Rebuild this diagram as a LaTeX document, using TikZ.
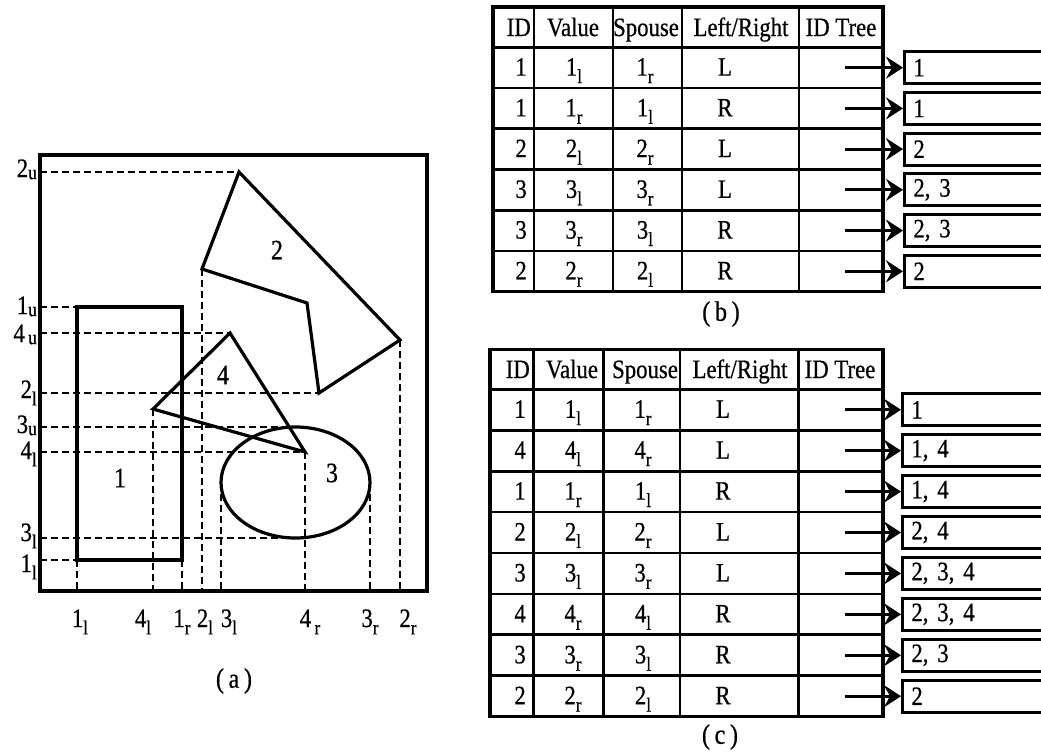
\documentclass[tikz,border=0pt]{standalone}
\usepackage{fontspec}
\setmainfont{Liberation Serif}[FakeStretch=0.86,FakeBold=0.6]
\usetikzlibrary{arrows.meta}

% number with a lowered letter index
\newcommand{\sbs}[2]{#1\raisebox{-0.28em}{\fontsize{20}{20}\selectfont #2}}
\newcommand{\sbu}[2]{#1\raisebox{-0.08em}{\fontsize{20}{20}\selectfont #2}}

\tikzset{
  outline/.style={line width=3.2pt, line join=miter},
  guide/.style={line width=2.8pt, dash pattern=on 7pt off 4pt},
  grid/.style={line width=2.8pt},
  lbl/.style={font=\fontsize{26.5}{30}\selectfont, inner sep=0pt},
  big/.style={font=\fontsize{28}{32}\selectfont, inner sep=0pt},
  treebox/.style={draw, line width=2.8pt, anchor=west, minimum height=32pt,
    text width=150pt, inner xsep=9pt, align=left, font=\fontsize{26.5}{30}\selectfont},
  tip/.style={line width=2.8pt, -{Stealth[length=17pt,width=22pt,inset=6pt]}}
}

\begin{document}
\begin{tikzpicture}[x=1pt,y=-1pt]
    \useasboundingbox (0,0) rectangle (1041,755);
    \clip (0,0) rectangle (1041,755);

    % (a) frame
    \draw[outline] (40,155) rectangle (427,591);
    \coordinate (fl) at (40,0);
    \coordinate (fb) at (0,591);
    % shape corners
    \coordinate (p2t) at (239,172);
    \coordinate (p2r) at (400,340);
    \coordinate (p2b) at (319,393);
    \coordinate (p2i) at (307,303);
    \coordinate (p2l) at (202,269);
    \coordinate (r1a) at (77,307);
    \coordinate (r1b) at (182,560);
    \coordinate (t4t) at (230,333);
    \coordinate (t4l) at (153,409);
    \coordinate (t4r) at (305,452);
    \coordinate (e3) at (295.5,482.5);
    \coordinate (e3n) at (295.5,427);
    \coordinate (e3s) at (295.5,538);
    \coordinate (e3w) at (221,482.5);
    \coordinate (e3e) at (370,482.5);
    % horizontal guides
    \draw[guide] (fl |- p2t) -- (p2t);
    \draw[guide] (fl |- r1a) -- (r1a);
    \draw[guide] (fl |- t4t) -- (t4t);
    \draw[guide] (fl |- p2b) -- (p2b);
    \draw[guide] (fl |- e3n) -- (e3n);
    \draw[guide] (fl |- t4r) -- (t4r);
    \draw[guide] (fl |- e3s) -- (e3s);
    \draw[guide] (fl |- r1b) -- (r1a |- r1b);
    % vertical guides
    \draw[guide] (r1a |- r1b) -- (r1a |- fb);
    \draw[guide] (t4l) -- (t4l |- fb);
    \draw[guide] (r1b) -- (r1b |- fb);
    \draw[guide] (p2l) -- (p2l |- fb);
    \draw[guide] (e3w) -- (e3w |- fb);
    \draw[guide] (t4r) -- (t4r |- fb);
    \draw[guide] (e3e) -- (e3e |- fb);
    \draw[guide] (p2r) -- (p2r |- fb);
    % shapes
    \draw[outline] (p2t) -- (p2r) -- (p2b) -- (p2i) -- (p2l) -- cycle;
    \draw[outline] (r1a) rectangle (r1b);
    \draw[outline] (t4t) -- (t4r) -- (t4l) -- cycle;
    \draw[outline] (e3) ellipse (74.5 and 55.5);
    \node[big] (n2) at (277,250) {2};
    \node[big] (n4) at (223,375) {4};
    \node[big] (n1) at (120,478) {1};
    \node[big] (n3) at (332,473) {3};
    % left labels
    \node[lbl, anchor=base east] (ly2u) at (37,177) {\sbu{2}{u}};
    \node[lbl, anchor=base east] (ly1u) at (37,314) {\sbu{1}{u}};
    \node[lbl, anchor=base east] (ly4u) at (37,342) {\sbu{4}{\,u}};
    \node[lbl, anchor=base east] (ly2l) at (37,398) {\sbs{2}{l}};
    \node[lbl, anchor=base east] (ly3u) at (37,433) {\sbu{3}{u}};
    \node[lbl, anchor=base east] (ly4l) at (37,459) {\sbs{4}{l}};
    \node[lbl, anchor=base east] (ly3l) at (37,541) {\sbs{3}{l}};
    \node[lbl, anchor=base east] (ly1l) at (37,572) {\sbs{1}{l}};
    % bottom labels
    \node[lbl, anchor=base] (lx1l) at (80,627) {\sbs{1}{l}};
    \node[lbl, anchor=base] (lx4l) at (143,627) {\sbs{4}{l}};
    \node[lbl, anchor=base] (lx1r) at (182,627) {\sbs{1}{r}};
    \node[lbl, anchor=base] (lx2l) at (205,627) {\sbs{2}{l}};
    \node[lbl, anchor=base] (lx3l) at (229,627) {\sbs{3}{l}};
    \node[lbl, anchor=base] (lx4r) at (310,627) {\sbs{4}{\,r}};
    \node[lbl, anchor=base] (lx3r) at (370,627) {\sbs{3}{r}};
    \node[lbl, anchor=base] (lx2r) at (408,627) {\sbs{2}{r}};
    \node[big] (capa) at (234,681) {(\,a\,)};

    % (b) table
    \draw[line width=3.2pt] (493,7) rectangle (883,291.7);
    \foreach \x in {534,613,682,799}
        \draw[grid] (\x,7) -- (\x,291.7);
    \foreach \i in {0,...,5}
        \draw[grid] (493,47.3+\i*40.73) -- (883,47.3+\i*40.73);
    \node[lbl, anchor=base east] (bhid) at (531,36) {ID};
    \node[lbl, anchor=base] (bhval) at (573,36) {Value};
    \node[lbl, anchor=base] (bhsp) at (646,36) {Spouse};
    \node[lbl, anchor=base] (bhlr) at (741,36) {Left/Right};
    \node[lbl, anchor=base] (bhtree) at (841,36) {ID Tree};
    \foreach \id/\va/\vb/\pa/\pb/\side/\tree [count=\i] in
        {1/1/l/1/r/L/1, 1/1/r/1/l/R/1, 2/2/l/2/r/L/2,
         3/3/l/3/r/L/{2, 3}, 3/3/r/3/l/R/{2, 3}, 2/2/r/2/l/R/2}
    {
        \pgfmathsetmacro{\yy}{47.3+(\i-0.5)*40.73}
        \node[lbl, anchor=base east] (bid\i) at (527,\yy+8) {\id};
        \node[lbl, anchor=base] (bval\i) at (574,\yy+8) {\sbs{\va}{\vb}};
        \node[lbl, anchor=base] (bsp\i) at (645,\yy+8) {\sbs{\pa}{\pb}};
        \node[lbl, anchor=base] (bside\i) at (725,\yy+8) {\side};
        \coordinate (bs\i) at (845,\yy);
        \node[treebox] (bt\i) at (903,\yy) {\tree};
        \draw[tip] (bs\i) -- (bt\i);
    }
    \node[big] (capb) at (721,314) {(\,b\,)};

    % (c) table
    \draw[line width=3.2pt] (490,349.3) rectangle (883,716.7);
    \foreach \x in {533.3,603.3,680,798.3}
        \draw[grid] (\x,349.3) -- (\x,716.7);
    \foreach \i in {0,...,7}
        \draw[grid] (490,389.3+\i*40.92) -- (883,389.3+\i*40.92);
    \node[lbl, anchor=base east] (chid) at (530,378) {ID};
    \node[lbl, anchor=base] (chval) at (572,378) {Value};
    \node[lbl, anchor=base] (chsp) at (645,378) {Spouse};
    \node[lbl, anchor=base] (chlr) at (740,378) {Left/Right};
    \node[lbl, anchor=base] (chtree) at (840,378) {ID Tree};
    \foreach \id/\va/\vb/\pa/\pb/\side/\tree [count=\i] in
        {1/1/l/1/r/L/1, 4/4/l/4/r/L/{1, 4}, 1/1/r/1/l/R/{1, 4},
         2/2/l/2/r/L/{2, 4}, 3/3/l/3/r/L/{2, 3, 4}, 4/4/r/4/l/R/{2, 3, 4},
         3/3/r/3/l/R/{2, 3}, 2/2/r/2/l/R/2}
    {
        \pgfmathsetmacro{\yy}{389.3+(\i-0.5)*40.92}
        \node[lbl, anchor=base east] (cid\i) at (526,\yy+8) {\id};
        \node[lbl, anchor=base] (cval\i) at (573,\yy+8) {\sbs{\va}{\vb}};
        \node[lbl, anchor=base] (csp\i) at (643,\yy+8) {\sbs{\pa}{\pb}};
        \node[lbl, anchor=base] (cside\i) at (723,\yy+8) {\side};
        \coordinate (cs\i) at (845,\yy);
        \node[treebox] (ct\i) at (901,\yy) {\tree};
        \draw[tip] (cs\i) -- (ct\i);
    }
    \node[big] (capc) at (720,737) {(\,c\,)};
\end{tikzpicture}
\end{document}
